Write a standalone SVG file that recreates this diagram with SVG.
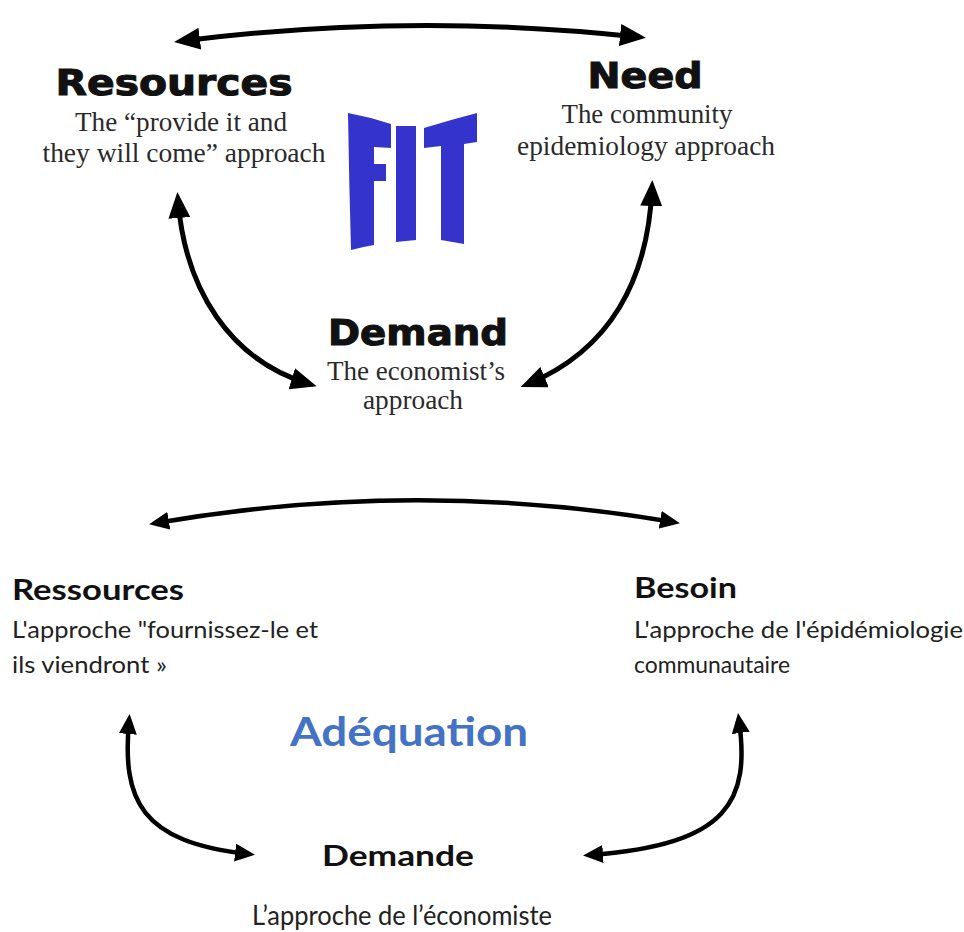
<svg xmlns="http://www.w3.org/2000/svg" width="964" height="932" viewBox="0 0 964 932">
<defs>
<style>
.h1{font-family:"DejaVu Sans","Liberation Sans",sans-serif;font-weight:bold;font-size:36px;fill:#111;stroke:#111;stroke-width:1.1;text-anchor:middle}
.s1{font-family:"Liberation Serif","Times New Roman",serif;font-size:27px;fill:#2a2a2a;text-anchor:middle}
.h2{font-family:Lato,"Open Sans",sans-serif;font-weight:bold;font-size:28px;fill:#111}
.s2{font-family:Lato,"Open Sans",sans-serif;font-size:23px;fill:#222}
.s3{font-family:Lato,"Open Sans",sans-serif;font-size:26px;fill:#222}
.big{font-family:Lato,"Open Sans",sans-serif;font-weight:bold;font-size:41px;fill:#4472C4;text-anchor:middle}
.c1{fill:none;stroke:#000;stroke-width:5}
.c2{fill:none;stroke:#000;stroke-width:4.5}
.fit{fill:#3434cc}
</style>
<marker id="ah1" markerUnits="userSpaceOnUse" markerWidth="26" markerHeight="22" refX="18" refY="11" orient="auto-start-reverse">
<path d="M0,0 L26,11 L0,22 z" fill="#000"/>
</marker>
<marker id="ah2" markerUnits="userSpaceOnUse" markerWidth="20" markerHeight="18" refX="13" refY="9" orient="auto-start-reverse">
<path d="M0,0 L20,9 L0,18 z" fill="#000"/>
</marker>
</defs>
<rect width="964" height="932" fill="#fff"/>

<g id="connectors">
<path class="c1" d="M182,41 Q410,12 638,37" marker-start="url(#ah1)" marker-end="url(#ah1)"/>
<path class="c1" d="M178,200 C185,290 230,360 309,384" marker-start="url(#ah1)" marker-end="url(#ah1)"/>
<path class="c1" d="M652,188 C648,280 610,350 528,384" marker-start="url(#ah1)" marker-end="url(#ah1)"/>
<path class="c2" d="M156,523 Q415,478 673,522" marker-start="url(#ah2)" marker-end="url(#ah2)"/>
<path class="c2" d="M129,721 C122,800 140,842 248,854" marker-start="url(#ah2)" marker-end="url(#ah2)"/>
<path class="c2" d="M739,720 C750,800 730,845 590,855" marker-start="url(#ah2)" marker-end="url(#ah2)"/>
</g>

<g id="fit-logo">
<path class="fit" d="M348,113 Q370,117 391,124 L391,148 L374,147 L374,164 L386,164 L386,181 L374,181 L374,245 Q362,247 351,250 Q349,180 348,113 Z"/>
<path class="fit" d="M396,126 L416,126 L416,240 L396,242 Z"/>
<path class="fit" d="M424,128 Q450,120 477,113 L477,142 L464,144 L464,244 L441,240 L441,146 L424,148 Z"/>
</g>

<g id="node-resources">
<text class="h1" x="174" y="95" textLength="237" lengthAdjust="spacingAndGlyphs">Resources</text>
<text class="s1" x="181" y="131" textLength="212" lengthAdjust="spacingAndGlyphs">The “provide it and</text>
<text class="s1" x="184" y="162" textLength="283" lengthAdjust="spacingAndGlyphs">they will come” approach</text>
</g>
<g id="node-need">
<text class="h1" x="645" y="88" textLength="115" lengthAdjust="spacingAndGlyphs">Need</text>
<text class="s1" x="647" y="123" textLength="171" lengthAdjust="spacingAndGlyphs">The community</text>
<text class="s1" x="646" y="155" textLength="258" lengthAdjust="spacingAndGlyphs">epidemiology approach</text>
</g>
<g id="node-demand">
<text class="h1" x="418" y="345" textLength="180" lengthAdjust="spacingAndGlyphs">Demand</text>
<text class="s1" x="416" y="380" textLength="178" lengthAdjust="spacingAndGlyphs">The economist’s</text>
<text class="s1" x="413" y="409" textLength="100" lengthAdjust="spacingAndGlyphs">approach</text>
</g>

<g id="node-ressources">
<text class="h2" x="12" y="600" textLength="172" lengthAdjust="spacingAndGlyphs">Ressources</text>
<text class="s2" x="12" y="638" textLength="306" lengthAdjust="spacingAndGlyphs">L'approche "fournissez-le et</text>
<text class="s2" x="12" y="673" textLength="155" lengthAdjust="spacingAndGlyphs">ils viendront »</text>
</g>
<g id="node-besoin">
<text class="h2" x="634" y="598" textLength="103" lengthAdjust="spacingAndGlyphs">Besoin</text>
<text class="s2" x="634" y="638" textLength="329" lengthAdjust="spacingAndGlyphs">L'approche de l'épidémiologie</text>
<text class="s2" x="634" y="673" textLength="156" lengthAdjust="spacingAndGlyphs">communautaire</text>
</g>
<g id="node-adequation">
<text class="big" x="409" y="746" textLength="238" lengthAdjust="spacingAndGlyphs">Adéquation</text>
</g>
<g id="node-demande">
<text class="h2" x="322" y="866" textLength="152" lengthAdjust="spacingAndGlyphs">Demande</text>
<text class="s3" x="252" y="925" textLength="300" lengthAdjust="spacingAndGlyphs">L’approche de l’économiste</text>
</g>
</svg>
